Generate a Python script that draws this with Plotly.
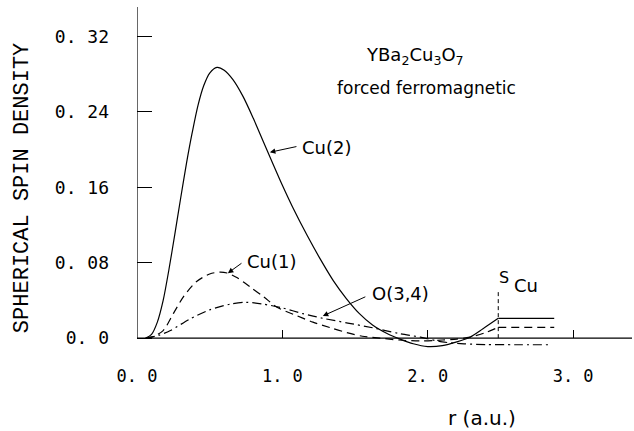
import plotly.graph_objects as go

# ---- data ----
r_cu2 = [0.06, 0.10, 0.14, 0.18, 0.22, 0.26, 0.30, 0.34, 0.38, 0.42, 0.46, 0.50, 0.55, 0.60, 0.66,
         0.73, 0.80, 0.87, 0.94, 1.00, 1.07, 1.17, 1.26, 1.35, 1.44, 1.53, 1.62, 1.72, 1.81, 1.90,
         2.00, 2.10, 2.20, 2.29, 2.38, 2.485, 2.87]
s_cu2 = [0.0, 0.004, 0.017, 0.040, 0.073, 0.110, 0.148, 0.185, 0.218, 0.247, 0.268, 0.281, 0.287, 0.284, 0.274,
         0.256, 0.233, 0.208, 0.183, 0.162, 0.139, 0.109, 0.084, 0.061, 0.042, 0.026, 0.014, 0.005, -0.001, -0.006,
         -0.009, -0.008, -0.004, 0.001, 0.010, 0.021, 0.021]

r_cu1 = [0.06, 0.10, 0.18, 0.25, 0.32, 0.41, 0.50, 0.57, 0.62, 0.69, 0.78, 0.87, 0.96, 1.08, 1.21, 1.33,
         1.44, 1.55, 1.67, 1.80, 1.95, 2.10, 2.20, 2.29, 2.40, 2.485, 2.87]
s_cu1 = [0.0, 0.001, 0.008, 0.026, 0.044, 0.060, 0.068, 0.070, 0.069, 0.064, 0.054, 0.044, 0.033, 0.025, 0.017, 0.011,
         0.006, 0.002, 0.0, -0.002, -0.003, -0.002, -0.001, 0.001, 0.006, 0.0115, 0.0115]

r_o34 = [0.06, 0.15, 0.23, 0.36, 0.50, 0.64, 0.75, 0.87, 1.00, 1.14, 1.28, 1.45, 1.62, 1.80, 1.95, 2.10,
         2.25, 2.40, 2.60, 2.84]
s_o34 = [0.0, 0.003, 0.008, 0.020, 0.030, 0.036, 0.038, 0.036, 0.032, 0.026, 0.021, 0.016, 0.011, 0.005, 0.001, -0.004,
         -0.006, -0.0068, -0.007, -0.007]

s_cu_radius = 2.485
x_tick_vals = [0, 1, 2, 3]
x_tick_text = ["0. 0", "1. 0", "2. 0", "3. 0"]
y_tick_vals = [0, 0.08, 0.16, 0.24, 0.32]
y_tick_text = ["0. 0", "0. 08", "0. 16", "0. 24", "0. 32"]

X_MAX = 3.405
Y_MIN, Y_MAX = -0.02, 0.351

fig = go.Figure()


def add_split(r, s, dash):
    inner = [(a, b) for a, b in zip(r, s) if a <= s_cu_radius]
    outer = [(a, b) for a, b in zip(r, s) if a >= s_cu_radius]
    fig.add_trace(go.Scatter(x=[p[0] for p in inner], y=[p[1] for p in inner], mode="lines",
                             line=dict(color="black", width=1.2, dash=dash, shape="spline", smoothing=0.8),
                             showlegend=False, hoverinfo="skip"))
    fig.add_trace(go.Scatter(x=[p[0] for p in outer], y=[p[1] for p in outer], mode="lines",
                             line=dict(color="black", width=1.2, dash=dash),
                             showlegend=False, hoverinfo="skip"))


add_split(r_cu2, s_cu2, "solid")
add_split(r_cu1, s_cu1, "8px,5px")
fig.add_trace(go.Scatter(x=r_o34, y=s_o34, mode="lines",
                         line=dict(color="black", width=1.2, dash="9px,4px,2px,4px", shape="spline", smoothing=0.8),
                         showlegend=False, hoverinfo="skip"))

# axis lines
fig.add_shape(type="line", x0=0, x1=0, y0=0, y1=Y_MAX, xref="x", yref="y", line=dict(color="black", width=1.2))
fig.add_shape(type="line", x0=0, x1=X_MAX, y0=0, y1=0, xref="x", yref="y", line=dict(color="black", width=1.2))
# S_Cu marker
fig.add_shape(type="line", x0=s_cu_radius, x1=s_cu_radius, y0=0, y1=0.051, xref="x", yref="y",
              line=dict(color="black", width=1, dash="4px,3px"))

mono = "DejaVu Sans Mono"
sans = "DejaVu Sans"

fig.update_layout(
    width=634, height=431,
    margin=dict(l=137, r=2, t=7, b=74),
    paper_bgcolor="white", plot_bgcolor="white",
    xaxis=dict(range=[0, X_MAX], showgrid=False, zeroline=False, showline=False,
               anchor="free", position=(0 - Y_MIN) / (Y_MAX - Y_MIN),
               ticks="inside", ticklen=8, tickwidth=1, tickcolor="black",
               tickvals=x_tick_vals, ticktext=x_tick_text, ticklabelstandoff=26,
               tickfont=dict(family=mono, size=17, color="black")),
    yaxis=dict(range=[Y_MIN, Y_MAX], showgrid=False, zeroline=False, showline=False,
               ticks="inside", ticklen=15, tickwidth=1, tickcolor="black",
               tickvals=y_tick_vals, ticktext=y_tick_text, ticklabelstandoff=27,
               tickfont=dict(family=mono, size=18, color="black")),
)

ann = []
# y-axis title
ann.append(dict(text="SPHERICAL SPIN DENSITY", xref="paper", yref="y", x=(22 - 137) / 495, y=0.159,
                textangle=-90, showarrow=False, xanchor="center", yanchor="middle",
                font=dict(family="Liberation Mono", size=22, color="black")))
# x-axis title
ann.append(dict(text="r (a.u.)", xref="x", yref="paper", x=(482 - 137) / 145.4, y=(357 - 418) / 350,
                showarrow=False, xanchor="center", yanchor="middle",
                font=dict(family=sans, size=20, color="black")))
# title texts
ann.append(dict(text="YBa<sub>2</sub>Cu<sub>3</sub>O<sub>7</sub>", xref="x", yref="y",
                x=(415 - 137) / 145.4, y=(338 - 56) / 943.4, showarrow=False,
                xanchor="center", yanchor="middle", font=dict(family=sans, size=18, color="black")))
ann.append(dict(text="forced ferromagnetic", xref="x", yref="y",
                x=(427 - 137) / 145.4, y=(338 - 88) / 943.4, showarrow=False,
                xanchor="center", yanchor="middle", font=dict(family=sans, size=17, color="black")))
# curve labels
labels = [("Cu(2)", 1.120, 0.2024, 1.107, 0.2034, 0.914, 0.197),
          ("Cu(1)", 0.742, 0.0816, 0.729, 0.0805, 0.625, 0.0689),
          ("O(3,4)", 1.601, 0.0477, 1.581, 0.0445, 1.278, 0.0235)]
for txt, lx, ly, tx, ty, hx, hy in labels:
    ann.append(dict(text=txt, x=lx, y=ly, xref="x", yref="y", showarrow=False, xanchor="left",
                    yanchor="middle", font=dict(family=sans, size=18, color="black")))
    ann.append(dict(text="", x=hx, y=hy, ax=tx, ay=ty, xref="x", yref="y", axref="x", ayref="y",
                    showarrow=True, arrowhead=2, arrowsize=1.1, arrowwidth=1, arrowcolor="black"))
# S_Cu label
ann.append(dict(text="S", x=(504 - 137) / 145.4, y=(338 - 277) / 943.4, xref="x", yref="y", showarrow=False,
                xanchor="center", yanchor="middle", font=dict(family=sans, size=16, color="black")))
ann.append(dict(text="Cu", x=(526 - 137) / 145.4, y=(338 - 285) / 943.4, xref="x", yref="y", showarrow=False,
                xanchor="center", yanchor="middle", font=dict(family=sans, size=18, color="black")))
fig.update_layout(annotations=ann)

fig.write_html("out.html")
